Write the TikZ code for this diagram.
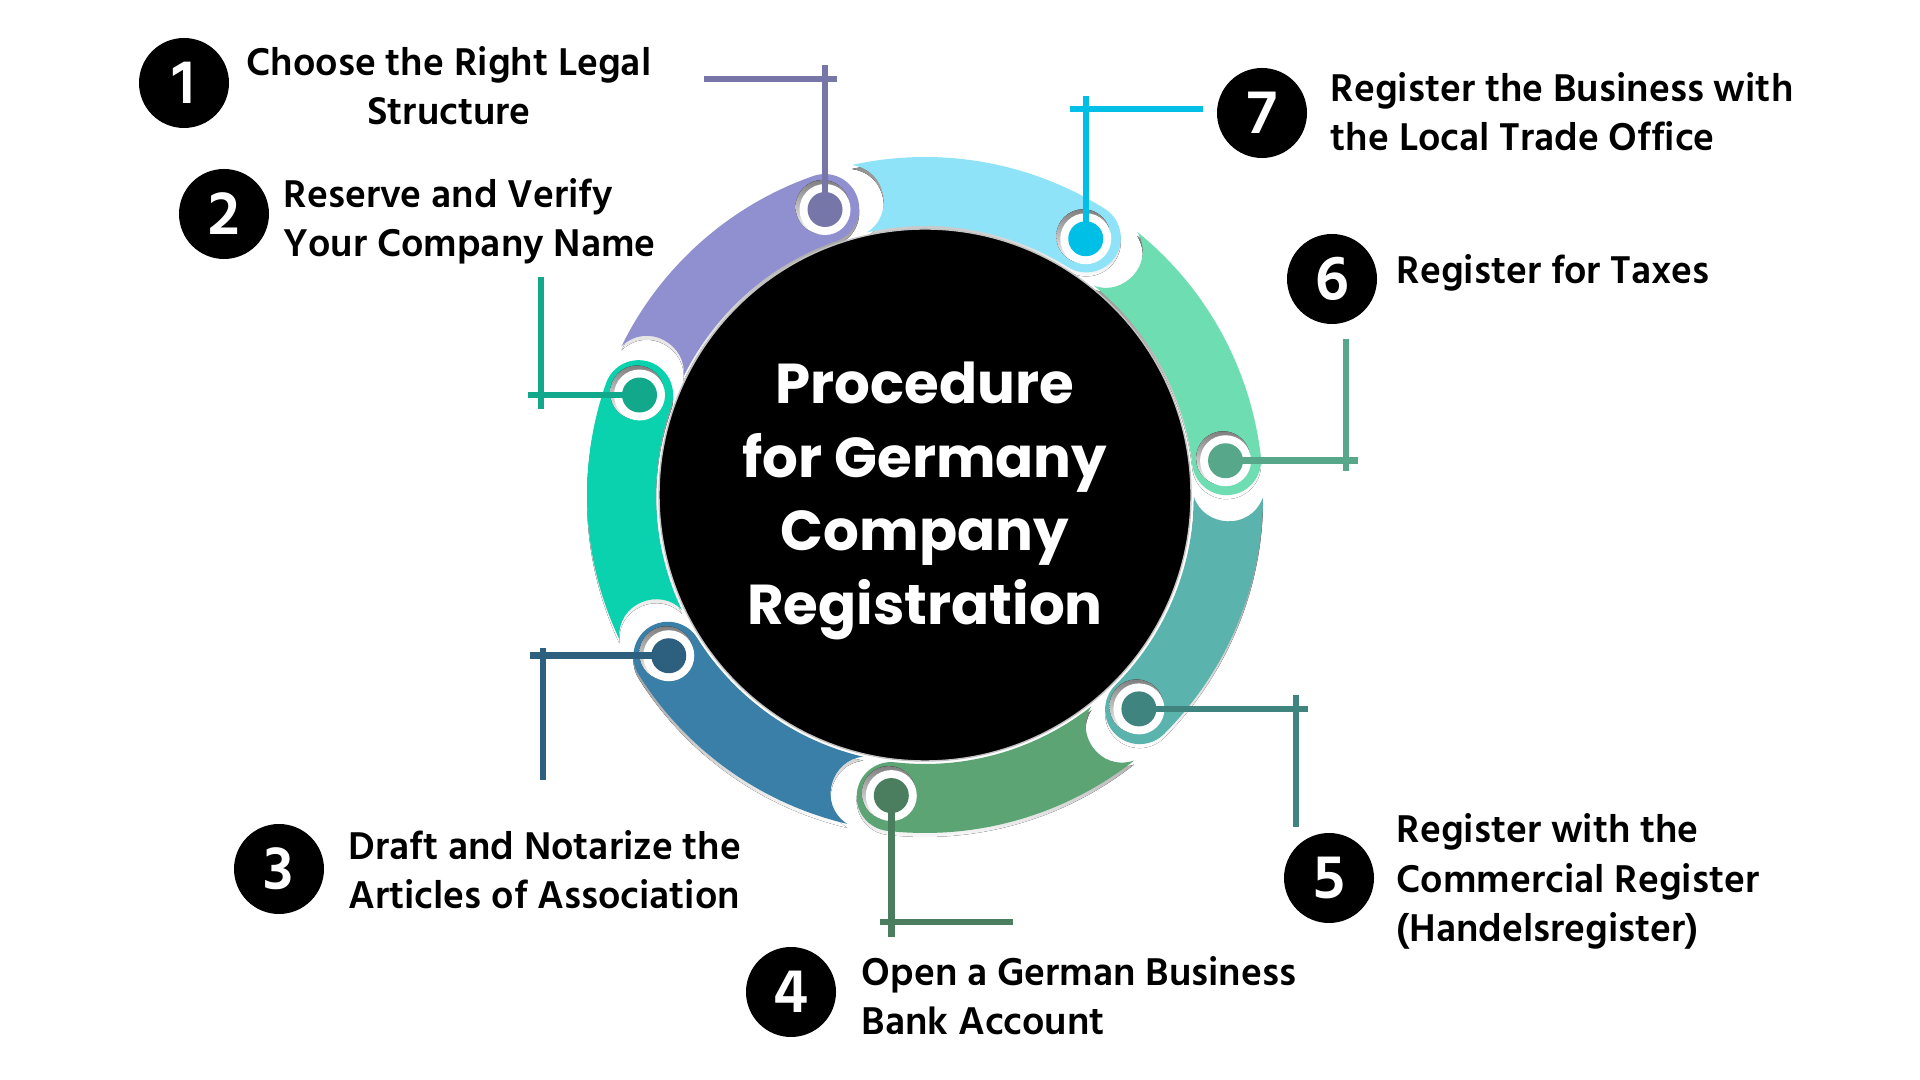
\documentclass[tikz,border=0pt]{standalone}
\usepackage{fontspec}
\setmainfont{Hind Madurai}
\newfontfamily\titlefont{Poppins}
\definecolor{segA}{HTML}{9090D0}
\definecolor{dotA}{HTML}{7676A8}
\definecolor{segG}{HTML}{8FE3F8}
\definecolor{dotG}{HTML}{00BFE6}
\definecolor{segF}{HTML}{6FDDB2}
\definecolor{dotF}{HTML}{57A88A}
\definecolor{segE}{HTML}{5AB3AD}
\definecolor{dotE}{HTML}{3F847F}
\definecolor{segD}{HTML}{5CA474}
\definecolor{dotD}{HTML}{4B7E5E}
\definecolor{segC}{HTML}{3A7FA8}
\definecolor{dotC}{HTML}{2D5F7F}
\definecolor{segB}{HTML}{0AD2AE}
\definecolor{dotB}{HTML}{12A88B}
\definecolor{shade}{HTML}{C2C2C2}
\begin{document}
\begin{tikzpicture}[line join=round,
    badge/.style={circle, fill=black, minimum size=0.9cm, inner sep=0pt, text=white,
      font=\fontsize{18}{18}\selectfont\bfseries},
    lbl/.style={anchor=west, align=left, inner sep=0pt,
      font=\fontsize{11.3}{14}\selectfont\bfseries},
    tline/.style={line width=1.85pt}]
  \useasboundingbox (0,0) rectangle (19.2,10.8);
  \fill[white] (0,0) rectangle (19.2,10.8);
  % ring of seven links
  \begin{scope}[shift={(9.25,5.85)}]
    \foreach \a/\c in {109.3/segA, 57.9/segG, 6.5/segF, -45/segE, -96.4/segD, -147.9/segC, 160.7/segB}{
      \pgfmathsetmacro\t{\a+44.6}
      \pgfmathsetmacro\m{\a+38.5}
      \fill[shade, yshift=-0.04cm] (\t:3.38) arc[start angle=\t, end angle=\a, radius=3.38]
        arc[start angle=\a, end angle=\a-180, radius=0.345]
        arc[start angle=\a, end angle=\t, radius=2.69]
        .. controls (\m:2.80) and (\m:3.27) .. (\t:3.38) -- cycle;
      \fill[\c] (\t:3.38) arc[start angle=\t, end angle=\a, radius=3.38]
        arc[start angle=\a, end angle=\a-180, radius=0.345]
        arc[start angle=\a, end angle=\t, radius=2.69]
        .. controls (\m:2.80) and (\m:3.27) .. (\t:3.38) -- cycle;
    }
    \foreach \a/\n in {109.3/1, 57.9/7, 6.5/6, -45/5, -96.4/4, -147.9/3, 160.7/2}{
      \coordinate (d\n) at (\a:3.025);
      \fill[shade] ([shift={(-0.025,0.025)}]d\n) circle (0.27);
      \fill[white] (d\n) circle (0.255);
    }
    \node[circle, fill=black, draw=shade, line width=0.4pt, minimum size=5.32cm, inner sep=0pt] (hub) at (0,0) {};
    \node[text=white, align=center, font=\titlefont\fontsize{16}{21}\selectfont\bfseries] (title)
      at ([yshift=-0.06cm]hub.center) {Procedure\\for Germany\\Company\\Registration};
  \end{scope}

  % connectors
  \coordinate (e1) at (d1 |- 0,10.15);
  \coordinate (e2) at (d2 -| 5.28,0);
  \coordinate (e3) at (d3 -| 5.30,0);
  \coordinate (e4) at (d4 |- 0,1.43);
  \coordinate (e5) at (d5 -| 13.08,0);
  \coordinate (e6) at (d6 -| 13.58,0);
  \coordinate (e7) at (d7 |- 0,9.84);
  \draw[tline, dotA] (d1) -- (e1) (7.04,10.01) -- (8.37,10.01);
  \draw[tline, dotB] (d2) -- (e2) (5.41,8.03) -- (5.41,6.71);
  \draw[tline, dotC] (d3) -- (e3) (5.43,4.32) -- (5.43,3.00);
  \draw[tline, dotD] (d4) -- (e4) (8.80,1.58) -- (10.13,1.58);
  \draw[tline, dotE] (d5) -- (e5) (12.96,3.85) -- (12.96,2.53);
  \draw[tline, dotF] (d6) -- (e6) (13.46,7.41) -- (13.46,6.09);
  \draw[tline, dotG] (d7) -- (e7) (10.70,9.71) -- (12.03,9.71);
  \fill[dotA] (d1) circle (0.175);
  \fill[dotB] (d2) circle (0.175);
  \fill[dotC] (d3) circle (0.175);
  \fill[dotD] (d4) circle (0.175);
  \fill[dotE] (d5) circle (0.175);
  \fill[dotF] (d6) circle (0.175);
  \fill[dotG] (d7) circle (0.175);

  % numbered steps
  \node[badge] (n1) at (1.84,9.97) {1};
  \node[badge] (n2) at (2.24,8.66) {2};
  \node[badge] (n3) at (2.79,2.11) {3};
  \node[badge] (n4) at (7.91,0.88) {4};
  \node[badge] (n5) at (13.29,2.02) {5};
  \node[badge] (n6) at (13.32,8.01) {6};
  \node[badge] (n7) at (12.62,9.67) {7};
  \node[lbl, anchor=center, align=center] (l1) at (4.49,9.945) {Choose the Right Legal\\Structure};
  \node[lbl] (l2) at (2.83,8.585) {Reserve and Verify\\Your Company Name};
  \node[lbl] (l3) at (3.48,2.105) {Draft and Notarize the\\Articles of Association};
  \node[lbl] (l4) at (8.61,0.845) {Open a German Business\\Bank Account};
  \node[lbl] (l5) at (13.96,1.985) {Register with the\\Commercial Register\\(Handelsregister)};
  \node[lbl] (l6) at (13.96,8.07) {Register for Taxes};
  \node[lbl] (l7) at (13.30,9.685) {Register the Business with\\the Local Trade Office};
\end{tikzpicture}
\end{document}
